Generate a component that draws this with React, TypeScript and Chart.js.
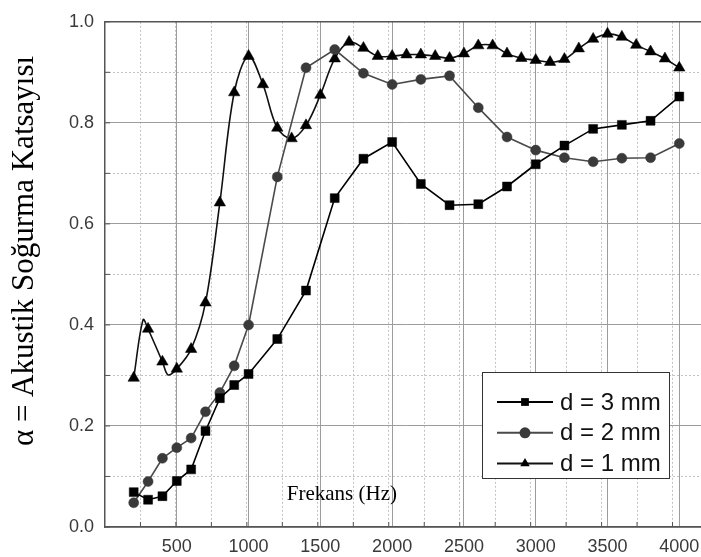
import React, { useEffect, useRef } from 'react';
import { Chart, registerables } from 'chart.js';

Chart.register(...registerables);

// ---- data ----
const freqCoarse = [200, 300, 400, 500, 600, 700, 800, 900, 1000, 1200, 1400, 1600, 1800, 2000, 2200, 2400, 2600, 2800, 3000, 3200, 3400, 3600, 3800, 4000];
const alpha3mm = [0.069, 0.054, 0.061, 0.091, 0.114, 0.19, 0.255, 0.281, 0.303, 0.372, 0.468, 0.651, 0.729, 0.762, 0.679, 0.637, 0.639, 0.674, 0.718, 0.755, 0.788, 0.796, 0.804, 0.852];
const alpha2mm = [0.048, 0.09, 0.136, 0.157, 0.176, 0.228, 0.266, 0.319, 0.4, 0.693, 0.909, 0.945, 0.898, 0.876, 0.886, 0.893, 0.83, 0.772, 0.746, 0.731, 0.723, 0.73, 0.731, 0.759];

const freqFine = [200, 300, 400, 500, 600, 700, 800, 900, 1000, 1100, 1200, 1300, 1400, 1500, 1600, 1700, 1800, 1900, 2000, 2100, 2200, 2300, 2400, 2500, 2600, 2700, 2800, 2900, 3000, 3100, 3200, 3300, 3400, 3500, 3600, 3700, 3800, 3900, 4000];
const alpha1mm = [0.295, 0.392, 0.327, 0.313, 0.352, 0.444, 0.642, 0.86, 0.932, 0.876, 0.79, 0.769, 0.795, 0.855, 0.927, 0.96, 0.948, 0.932, 0.932, 0.935, 0.935, 0.932, 0.928, 0.937, 0.953, 0.953, 0.937, 0.928, 0.924, 0.92, 0.926, 0.947, 0.966, 0.976, 0.97, 0.954, 0.941, 0.927, 0.909];
// unmarked knots of the smoothed d = 1 mm curve
const knot1mmFreq = [265, 440];
const knot1mmAlpha = [0.41, 0.301];

const seriesLabels = ['d = 3 mm', 'd = 2 mm', 'd = 1 mm'];
const xTickValues = [500, 1000, 1500, 2000, 2500, 3000, 3500, 4000];
const yTickLabels = ['0.0', '0.2', '0.4', '0.6', '0.8', '1.0'];
const yTitle = 'α = Akustik Soğurma Katsayısı';
const xTitle = 'Frekans (Hz)';

const SANS = "'Liberation Sans', Arial, sans-serif";
const SERIF = "'Liberation Serif', 'Times New Roman', serif";

function drawMarker(ctx: CanvasRenderingContext2D, style: string, x: number, y: number, r: number, fill: string) {
  ctx.beginPath();
  if (style === 'rect') {
    const s = r * Math.SQRT1_2;
    ctx.rect(x - s, y - s, 2 * s, 2 * s);
  } else if (style === 'circle') {
    ctx.arc(x, y, r, 0, Math.PI * 2);
  } else {
    const w = r * Math.sin((2 * Math.PI) / 3);
    ctx.moveTo(x, y - r);
    ctx.lineTo(x + w, y + r / 2);
    ctx.lineTo(x - w, y + r / 2);
    ctx.closePath();
  }
  ctx.fillStyle = fill;
  ctx.fill();
}

const decorPlugin = {
  id: 'decor',
  afterDraw(chart: any) {
    const { ctx, chartArea: ca, scales } = chart;
    const xs = scales.x;
    const ys = scales.y;
    ctx.save();
    // top frame line
    ctx.strokeStyle = '#555';
    ctx.lineWidth = 1.5;
    ctx.beginPath();
    ctx.moveTo(ca.left, ca.top);
    ctx.lineTo(ca.right, ca.top);
    ctx.stroke();
    // inward tick marks
    ctx.lineWidth = 1;
    ctx.strokeStyle = '#555';
    scales.xMinor.ticks.forEach((t: any) => {
      const px = xs.getPixelForValue(t.value);
      if (px <= ca.left + 1 || px > ca.right) return;
      ctx.beginPath();
      ctx.moveTo(px, ca.bottom);
      ctx.lineTo(px, ca.bottom - 5);
      ctx.stroke();
    });
    scales.yMinor.ticks.forEach((t: any) => {
      const py = ys.getPixelForValue(t.value);
      ctx.beginPath();
      ctx.moveTo(ca.left, py);
      ctx.lineTo(ca.left + 5, py);
      ctx.stroke();
    });
    // y title
    ctx.fillStyle = '#000';
    ctx.font = `31px ${SERIF}`;
    ctx.textAlign = 'center';
    ctx.textBaseline = 'alphabetic';
    ctx.translate(33, 251);
    ctx.rotate(-Math.PI / 2);
    ctx.fillText(yTitle, 0, 0);
    ctx.restore();

    ctx.save();
    // x title inside plot
    ctx.fillStyle = '#000';
    ctx.font = `21px ${SERIF}`;
    ctx.textAlign = 'center';
    ctx.textBaseline = 'middle';
    ctx.fillText(xTitle, xs.getPixelForValue(1650), ys.getPixelForValue(0.065));

    // legend
    const bx = 482, by = 372, bw = 187, bh = 106;
    ctx.fillStyle = '#fff';
    ctx.fillRect(bx, by, bw, bh);
    ctx.strokeStyle = '#333';
    ctx.lineWidth = 1;
    ctx.strokeRect(bx + 0.5, by + 0.5, bw, bh);
    ctx.font = `24px ${SANS}`;
    ctx.textAlign = 'left';
    ctx.textBaseline = 'middle';
    const order = [0, 1, 2];
    order.forEach((di, i) => {
      const ds = chart.data.datasets[di];
      const cy = 402 + i * 30.8;
      ctx.strokeStyle = ds.borderColor;
      ctx.lineWidth = 2;
      ctx.beginPath();
      ctx.moveTo(497, cy);
      ctx.lineTo(553, cy);
      ctx.stroke();
      drawMarker(ctx, ds.pointStyle, 525, cy, 5.5, ds.pointBackgroundColor);
      ctx.fillStyle = '#111';
      ctx.fillText(ds.label, 560, cy + 1);
    });
    ctx.restore();
  },
};

export default function App() {
  const ref = useRef<HTMLCanvasElement | null>(null);

  useEffect(() => {
    if (!ref.current) return;
    const pts3 = freqCoarse.map((f, i) => ({ x: f, y: alpha3mm[i] }));
    const pts2 = freqCoarse.map((f, i) => ({ x: f, y: alpha2mm[i] }));
    const pts1 = freqFine
      .map((f, i) => ({ x: f, y: alpha1mm[i], m: 1 }))
      .concat(knot1mmFreq.map((f, i) => ({ x: f, y: knot1mmAlpha[i], m: 0 })))
      .sort((a, b) => a.x - b.x);

    const chart = new Chart(ref.current, {
      type: 'line',
      data: {
        datasets: [
          {
            label: seriesLabels[0],
            data: pts3,
            borderColor: '#000',
            borderWidth: 1.6,
            pointStyle: 'rect',
            pointRadius: 6.3,
            pointBackgroundColor: '#000',
            pointBorderColor: '#000',
            pointBorderWidth: 0.5,
            tension: 0,
          },
          {
            label: seriesLabels[1],
            data: pts2,
            borderColor: '#4a4a4a',
            borderWidth: 1.6,
            pointStyle: 'circle',
            pointRadius: 5,
            pointBackgroundColor: '#3a3a3a',
            pointBorderColor: '#3a3a3a',
            pointBorderWidth: 0.5,
            tension: 0,
          },
          {
            label: seriesLabels[2],
            data: pts1 as any,
            borderColor: '#111',
            borderWidth: 1.6,
            pointStyle: 'triangle',
            pointRadius: pts1.map((p) => (p.m ? 6.6 : 0)),
            pointBackgroundColor: '#000',
            pointBorderColor: '#000',
            pointBorderWidth: 0.5,
            tension: 0.35,
          },
        ],
      },
      options: {
        responsive: false,
        animation: false,
        parsing: true,
        layout: { padding: { top: 16, right: 12, left: 0, bottom: 0 } },
        plugins: { legend: { display: false }, tooltip: { enabled: false }, title: { display: false } },
        scales: {
          x: {
            type: 'linear',
            min: 0,
            max: 4200,
            position: 'bottom',
            afterFit: (s: any) => { s.height = 30; },
            afterBuildTicks: (s: any) => { s.ticks = xTickValues.map((v) => ({ value: v })); },
            ticks: {
              callback: (v: any) => String(v),
              font: { family: SANS, size: 18 },
              color: '#3a3a3a',
              padding: 9,
              maxRotation: 0,
              autoSkip: false,
            },
            grid: { color: '#9c9c9c', lineWidth: 1, drawTicks: false },
            border: { color: '#555', width: 1.5 },
          },
          xMinor: {
            type: 'linear',
            min: 0,
            max: 4200,
            position: 'bottom',
            afterFit: (s: any) => { s.height = 0; },
            ticks: { display: false, stepSize: 250 },
            grid: {
              color: (c: any) => (c.tick && c.tick.value % 500 === 0 ? 'rgba(0,0,0,0)' : '#c2c2c2'),
              lineWidth: 1,
              drawTicks: false,
            },
            border: { display: false, dash: [2, 2] },
          },
          y: {
            type: 'linear',
            min: 0,
            max: 1,
            position: 'left',
            afterFit: (s: any) => { s.width = 105; },
            afterBuildTicks: (s: any) => { s.ticks = yTickLabels.map((l) => ({ value: parseFloat(l) })); },
            ticks: {
              callback: (v: any) => Number(v).toFixed(1),
              font: { family: SANS, size: 18 },
              color: '#3a3a3a',
              padding: 11,
            },
            grid: { color: '#9c9c9c', lineWidth: 1, drawTicks: false },
            border: { color: '#555', width: 1.5 },
          },
          yMinor: {
            type: 'linear',
            min: 0,
            max: 1,
            position: 'left',
            afterFit: (s: any) => { s.width = 0; },
            ticks: { display: false, stepSize: 0.1 },
            grid: {
              color: (c: any) => (c.tick && Math.round(c.tick.value * 10) % 2 === 0 ? 'rgba(0,0,0,0)' : '#c2c2c2'),
              lineWidth: 1,
              drawTicks: false,
            },
            border: { display: false, dash: [2, 2] },
          },
        },
      } as any,
      plugins: [decorPlugin],
    });
    return () => chart.destroy();
  }, []);

  return (
    <div style={{ position: 'fixed', left: 0, top: 0, width: 701, height: 557, overflow: 'hidden', background: '#fff' }}>
      <canvas ref={ref} width={720} height={557} style={{ display: 'block' }} />
    </div>
  );
}
